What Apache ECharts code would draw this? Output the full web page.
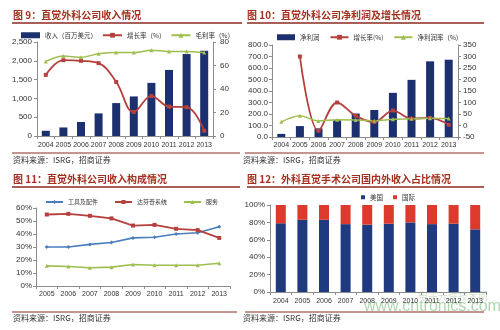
<!DOCTYPE html>
<html><head><meta charset="utf-8">
<script src="https://cdn.jsdelivr.net/npm/echarts@6/dist/echarts.min.js"></script>
<style>html,body{margin:0;padding:0;background:#fff}#c{width:500px;height:330px}</style>
</head><body><div id="c"></div>
<script>
// Chart 9: revenue
const years9 = ['2004','2005','2006','2007','2008','2009','2010','2011','2012','2013'];
const revenue = [139,227,373,601,875,1052,1413,1757,2179,2265];
const revGrowth = [52,64.5,64,62,46,20.5,34,25,24.5,4.5];
const grossMargin = [63.5,68,67,70,71,71,73,72,72,71];
const ticks9Left = [0,2500,500];
const ticks9Right = [0,80,20];
// Chart 10: net income
const years10 = ['2004','2005','2006','2007','2008','2009','2010','2011','2012','2013'];
const netIncome = [27,95,75,145,204,235,384,497,658,672];
const niGrowth = [null,300,-23,100,42,15,65,30,33,3];
const netMargin = [16,42,20,25,24,21,27,29,31,30];
// Chart 11: revenue structure
const years11 = ['2005','2006','2007','2008','2009','2010','2011','2012','2013'];
const tools = [30,30,32,33.5,37,37.5,40,41,45.5];
const systems = [55,55.5,54,52,46.5,47,44,43,37];
const services = [15.5,15,14,14.5,16.5,16,16,16,17.5];
// Chart 12: domestic / international
const years12 = ['2004','2005','2006','2007','2008','2009','2010','2011','2012','2013'];
const usShare = [79,83,83,78,77.5,78.5,80,78,78.5,72];
const intlShare = [21,17,17,22,22.5,21.5,20,22,21.5,28];

const CJK = '"Noto Sans CJK SC", sans-serif';
const LAT = '"Liberation Sans", Arial, sans-serif';
const titleColor = '#A3301F';
const ruleColor = '#8B2A20';
const navy = '#1C2F6E';
const red = '#B5403D';
const green = '#9FBE4E';
const blue = '#4A7EBB';

function xAx(grid, data, margin){
  return {type:'category', gridIndex:grid, data:data,
    axisLine:{lineStyle:{color:'#8c8c8c',width:1}},
    axisTick:{show:true,length:3,lineStyle:{color:'#8c8c8c'}},
    axisLabel:{fontSize:7,color:'#333',fontFamily:LAT,margin:margin,interval:0}};
}
function yAx(grid, pos, min, max, interval, margin, fmt){
  return {type:'value', gridIndex:grid, position:pos, min:min, max:max, interval:interval,
    splitLine:{show:false},
    axisLine:{show:true,lineStyle:{color:'#8c8c8c',width:1}},
    axisTick:{show:true,length:3,lineStyle:{color:'#8c8c8c'}},
    axisLabel:{fontSize:8,color:'#333',fontFamily:LAT,margin:margin,formatter:fmt}};
}
const legendText = {fontSize:6.5,color:'#333',fontFamily:CJK};

const option = {
  animation:false,
  backgroundColor:'#fff',
  grid:[
    {left:37,top:42,width:176,height:94},
    {left:272,top:45,width:186,height:92},
    {left:36,top:208,width:194,height:78},
    {left:270,top:205,width:216,height:87}
  ],
  xAxis:[xAx(0,years9,6),xAx(1,years10,5),xAx(2,years11,5),xAx(3,years12,6)],
  yAxis:[
    yAx(0,'left',ticks9Left[0],ticks9Left[1],ticks9Left[2],5),
    yAx(0,'right',ticks9Right[0],ticks9Right[1],ticks9Right[2],7),
    yAx(1,'left',0,800,100,4,v=>v.toFixed(1)),
    yAx(1,'right',-50,350,50,5),
    yAx(2,'left',0,60,10,4,'{value}%'),
    yAx(3,'left',0,100,20,5,'{value}%')
  ],
  legend:[
    {left:16,top:27,itemWidth:19,itemHeight:6,itemGap:5,textStyle:legendText,
     data:[{name:'收入（百万美元）',icon:'rect'},'增长率（%）','毛利率（%）']},
    {left:272,top:29,itemWidth:18,itemHeight:6,itemGap:10,textStyle:legendText,
     data:[{name:'净利润',icon:'rect'},'增长率(%)','净利润率（%）']},
    {left:40,top:194,itemWidth:17,itemHeight:5,itemGap:16,textStyle:{fontSize:6,color:'#333',fontFamily:CJK},
     data:['工具及配件','达芬奇系统','服务']},
    {left:356,top:189,itemWidth:4,itemHeight:4,itemGap:10,textStyle:legendText,
     data:[{name:'美国',icon:'rect'},{name:'国际',icon:'rect'}]}
  ],
  series:[
    {name:'收入（百万美元）',type:'bar',xAxisIndex:0,yAxisIndex:0,data:revenue,barWidth:8,itemStyle:{color:navy}},
    {name:'增长率（%）',type:'line',xAxisIndex:0,yAxisIndex:1,data:revGrowth,smooth:0.4,
     symbol:'rect',symbolSize:4,itemStyle:{color:red},lineStyle:{width:1.8,color:red}},
    {name:'毛利率（%）',type:'line',xAxisIndex:0,yAxisIndex:1,data:grossMargin,smooth:0.3,
     symbol:'triangle',symbolSize:4,itemStyle:{color:green},lineStyle:{width:1.5,color:green}},

    {name:'净利润',type:'bar',xAxisIndex:1,yAxisIndex:2,data:netIncome,barWidth:8,itemStyle:{color:navy}},
    {name:'增长率(%)',type:'line',xAxisIndex:1,yAxisIndex:3,data:niGrowth,smooth:0.35,
     symbol:'rect',symbolSize:4,itemStyle:{color:red},lineStyle:{width:1.8,color:red}},
    {name:'净利润率（%）',type:'line',xAxisIndex:1,yAxisIndex:3,data:netMargin,smooth:0.3,
     symbol:'triangle',symbolSize:4,itemStyle:{color:green},lineStyle:{width:1.5,color:green}},

    {name:'工具及配件',type:'line',xAxisIndex:2,yAxisIndex:4,data:tools,
     symbol:'diamond',symbolSize:4,itemStyle:{color:blue},lineStyle:{width:1.6,color:blue}},
    {name:'达芬奇系统',type:'line',xAxisIndex:2,yAxisIndex:4,data:systems,
     symbol:'rect',symbolSize:4,itemStyle:{color:red},lineStyle:{width:1.8,color:red}},
    {name:'服务',type:'line',xAxisIndex:2,yAxisIndex:4,data:services,
     symbol:'triangle',symbolSize:4,itemStyle:{color:green},lineStyle:{width:1.6,color:green}},

    {name:'美国',type:'bar',stack:'s',xAxisIndex:3,yAxisIndex:5,data:usShare,barWidth:10,itemStyle:{color:'#1F3A7E'}},
    {name:'国际',type:'bar',stack:'s',xAxisIndex:3,yAxisIndex:5,data:intlShare,barWidth:10,itemStyle:{color:'#DC3A2C'}}
  ],
  graphic:[
    {type:'text',left:13,top:10,style:{text:'图 9：直觉外科公司收入情况',font:'bold 10px '+CJK,fill:titleColor}},
    {type:'text',left:247,top:10,style:{text:'图 10：直觉外科公司净利润及增长情况',font:'bold 10px '+CJK,fill:titleColor}},
    {type:'text',left:13,top:174,style:{text:'图 11：直觉外科公司收入构成情况',font:'bold 10px '+CJK,fill:titleColor}},
    {type:'text',left:247,top:174,style:{text:'图 12：外科直觉手术公司国内外收入占比情况',font:'bold 10px '+CJK,fill:titleColor}},
    {type:'line',shape:{x1:12,y1:23,x2:242,y2:23},style:{stroke:ruleColor,lineWidth:1.5}},
    {type:'line',shape:{x1:247,y1:23,x2:484,y2:23},style:{stroke:ruleColor,lineWidth:1.5}},
    {type:'line',shape:{x1:12,y1:187,x2:240,y2:187},style:{stroke:ruleColor,lineWidth:1.5}},
    {type:'line',shape:{x1:247,y1:187,x2:484,y2:187},style:{stroke:ruleColor,lineWidth:1.5}},
    {type:'line',shape:{x1:12,y1:153,x2:240,y2:153},style:{stroke:ruleColor,lineWidth:1}},
    {type:'line',shape:{x1:245,y1:153,x2:484,y2:153},style:{stroke:ruleColor,lineWidth:1}},
    {type:'line',shape:{x1:12,y1:312,x2:237,y2:312},style:{stroke:ruleColor,lineWidth:1}},
    {type:'line',shape:{x1:245,y1:312,x2:484,y2:312},style:{stroke:ruleColor,lineWidth:1}},
    {type:'text',left:13,top:156,style:{text:'资料来源：ISRG，招商证券',font:'8px '+CJK,fill:'#333'}},
    {type:'text',left:243,top:156,style:{text:'资料来源：ISRG，招商证券',font:'8px '+CJK,fill:'#333'}},
    {type:'text',left:13,top:314,style:{text:'资料来源：ISRG，招商证券',font:'8px '+CJK,fill:'#333'}},
    {type:'text',left:243,top:314,style:{text:'资料来源：ISRG，招商证券',font:'8px '+CJK,fill:'#333'}},
    {type:'text',left:418,top:291,style:{text:'电子元件技术网',font:'10px '+CJK,fill:'rgba(120,180,120,0.35)'}},
    {type:'text',left:364,top:299,style:{text:'www.cntronics.com',font:'16px '+LAT,fill:'rgba(110,180,110,0.55)'}}
  ]
};
const chart = echarts.init(document.getElementById('c'),null,{renderer:'canvas'});
chart.setOption(option);
</script>
</body></html>
